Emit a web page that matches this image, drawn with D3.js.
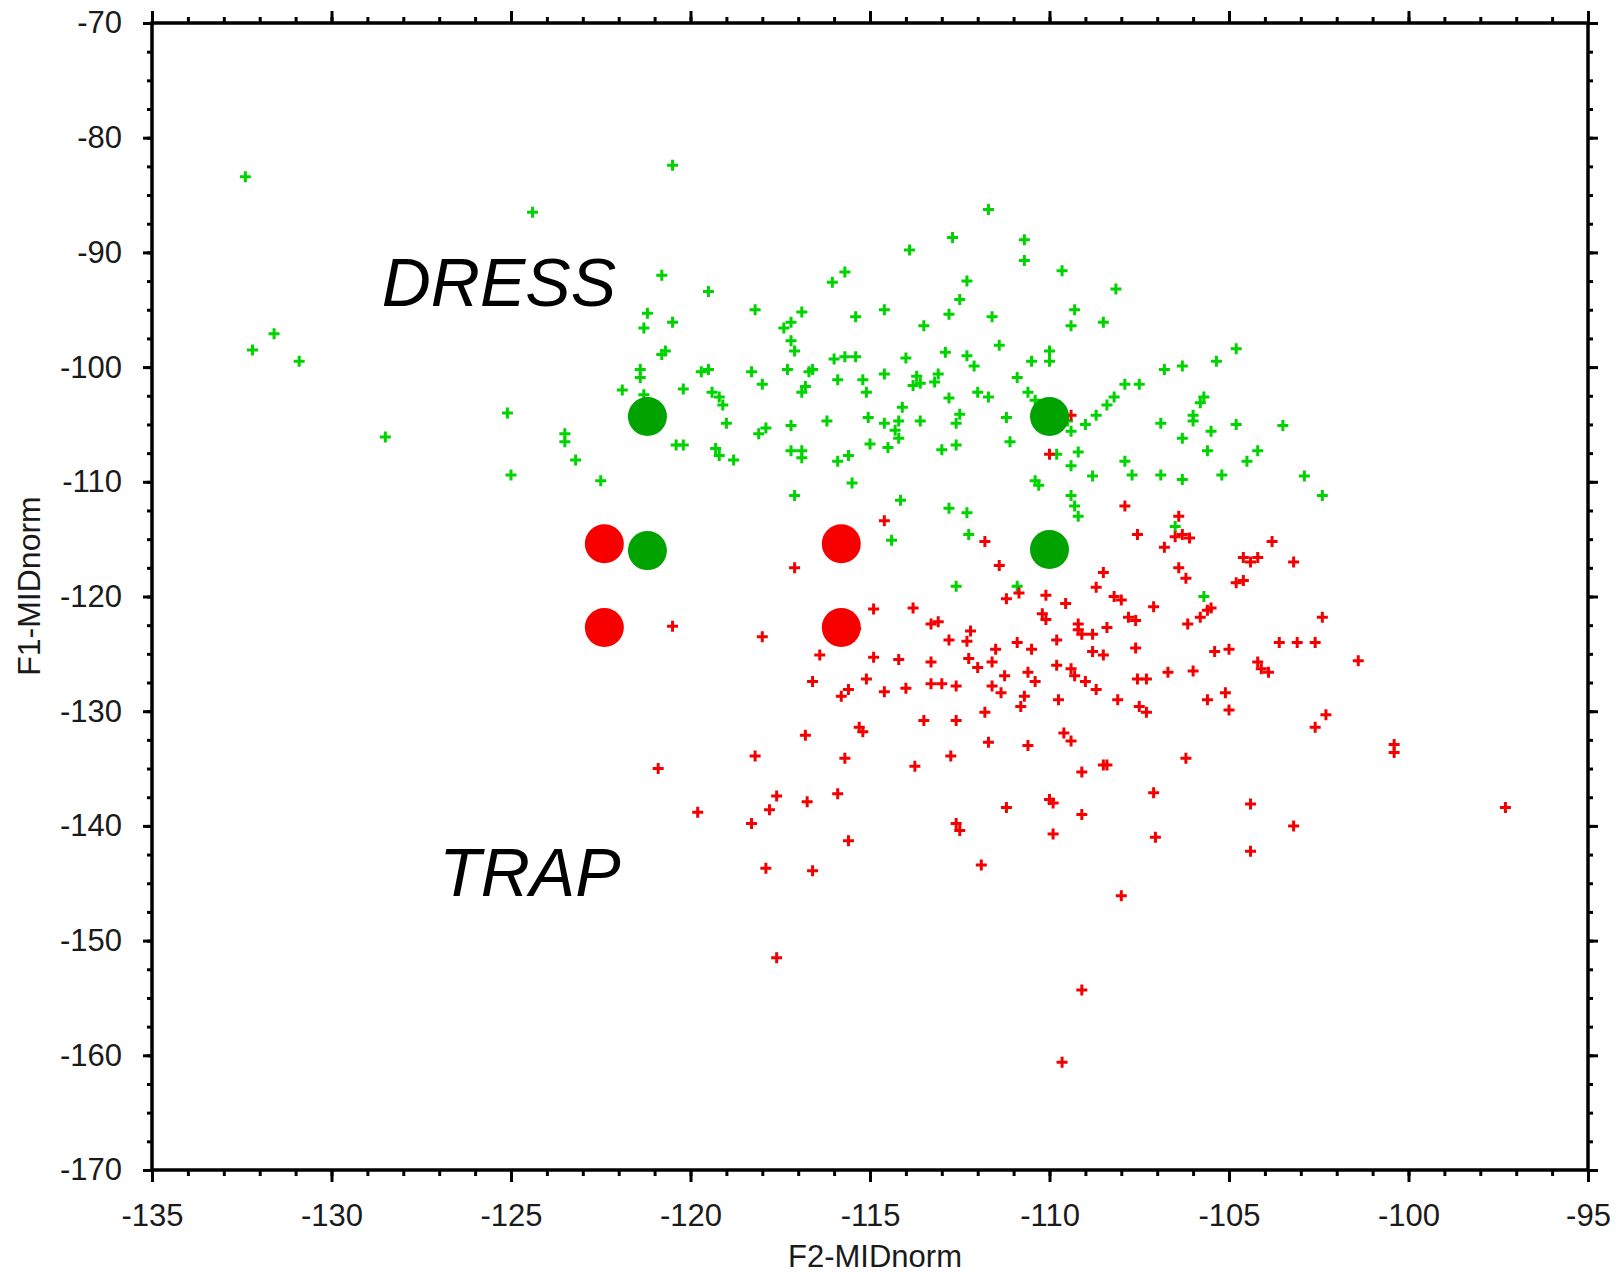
<!DOCTYPE html>
<html><head><meta charset="utf-8">
<script src="https://cdn.jsdelivr.net/npm/d3@7/dist/d3.min.js"></script>
<style>
html,body{margin:0;padding:0;background:#fff;}
svg{display:block;}
text{font-family:"Liberation Sans",Arial,sans-serif;}
</style></head>
<body>
<svg id="c" width="1617" height="1274"></svg>
<script>
// ---- data ----
const xTicks = [-135,-130,-125,-120,-115,-110,-105,-100,-95];
const yTicks = [-70,-80,-90,-100,-110,-120,-130,-140,-150,-160,-170];
const xLabel = "F2-MIDnorm";
const yLabel = "F1-MIDnorm";
const groupLabels = [{text:"DRESS", x:-128.6, y:-94.7},{text:"TRAP", x:-127.0, y:-146.1}];

const dressMeans = [[-121.2,-104.3],[-110.0,-104.3],[-121.2,-116.0],[-110.0,-115.9]];
const trapMeans  = [[-122.4,-115.4],[-115.8,-115.4],[-122.4,-122.7],[-115.8,-122.7]];

const dressPoints = [
[-132.4,-83.4],[-131.6,-97.1],[-132.2,-98.5],[-130.9,-99.5],[-128.5,-106.1],[-124.4,-86.5],
[-125.1,-104.0],[-125.0,-109.4],[-123.5,-105.8],[-123.5,-106.5],[-123.2,-108.1],[-122.5,-109.9],
[-120.5,-82.4],[-120.8,-92.0],[-121.2,-95.3],[-121.3,-96.6],[-120.5,-96.1],[-120.8,-98.9],
[-120.7,-98.6],[-121.4,-100.2],[-121.4,-100.9],[-121.3,-102.4],[-121.1,-103.5],[-120.4,-106.8],
[-120.2,-106.8],[-120.2,-101.9],[-119.5,-93.4],[-119.7,-100.4],[-119.5,-100.2],[-119.4,-102.2],
[-119.2,-102.6],[-119.1,-103.3],[-119.3,-107.1],[-119.2,-107.7],[-118.8,-108.1],[-119.0,-104.9],
[-118.2,-95.0],[-118.3,-100.4],[-118.0,-101.5],[-118.1,-105.8],[-117.9,-105.3],[-117.3,-100.2],
[-117.4,-96.6],[-117.2,-97.7],[-117.2,-96.1],[-116.9,-95.2],[-117.1,-98.6],[-116.9,-102.2],
[-117.2,-105.1],[-117.2,-107.3],[-116.9,-107.3],[-116.9,-107.9],[-117.1,-111.2],[-116.6,-100.2],
[-116.7,-100.4],[-116.05,-92.6],[-115.7,-91.7],[-116.0,-99.3],[-115.7,-99.1],[-115.4,-99.1],
[-115.9,-101.1],[-116.2,-104.7],[-115.9,-108.2],[-115.6,-107.7],[-115.5,-110.1],[-115.4,-95.6],
[-115.2,-101.1],[-115.1,-102.2],[-115.05,-104.4],[-115.0,-106.7],[-114.6,-95.0],[-114.6,-100.6],
[-114.6,-104.9],[-114.5,-107.0],[-114.3,-105.5],[-114.2,-104.7],[-114.1,-103.5],[-114.2,-106.2],
[-113.9,-89.8],[-114.0,-99.2],[-113.7,-100.8],[-113.6,-101.4],[-113.5,-96.4],[-113.8,-101.6],
[-114.15,-111.6],[-114.4,-115.1],[-113.6,-104.7],[-113.2,-101.3],[-113.1,-100.6],[-112.9,-98.7],
[-112.8,-95.4],[-112.8,-102.7],[-112.7,-88.7],[-112.6,-104.9],[-112.5,-104.1],[-112.5,-94.1],
[-112.3,-92.5],[-112.3,-99.0],[-112.1,-99.9],[-112.0,-102.2],[-112.6,-106.8],[-112.8,-112.3],
[-112.3,-112.7],[-112.25,-114.6],[-112.6,-119.1],[-111.7,-86.25],[-111.6,-95.6],[-111.7,-102.6],
[-111.2,-104.4],[-110.7,-88.9],[-110.7,-90.7],[-111.1,-106.5],[-110.9,-100.9],[-110.5,-99.5],
[-110.4,-102.9],[-110.6,-102.2],[-110.0,-98.6],[-110.0,-99.5],[-109.65,-91.6],[-109.4,-96.4],
[-109.3,-95.0],[-109.5,-104.7],[-109.4,-105.6],[-109.2,-107.4],[-109.4,-108.6],[-108.8,-109.5],
[-109.4,-111.2],[-109.3,-112.1],[-109.2,-113.0],[-110.4,-109.9],[-110.3,-110.3],[-109.8,-107.6],
[-108.5,-96.1],[-108.7,-104.2],[-108.4,-103.3],[-108.15,-93.2],[-108.2,-102.6],[-107.9,-101.5],
[-107.5,-101.5],[-107.9,-108.2],[-107.7,-109.4],[-106.9,-104.9],[-106.9,-109.4],[-106.8,-100.2],
[-106.3,-99.9],[-106.3,-109.8],[-106.5,-113.9],[-106.3,-106.2],[-106.0,-104.7],[-106.0,-104.2],
[-105.8,-103.1],[-105.7,-102.6],[-105.6,-107.3],[-105.35,-99.5],[-105.2,-109.4],[-104.8,-98.4],
[-104.8,-105.0],[-104.5,-108.2],[-104.2,-107.3],[-103.5,-105.1],[-102.9,-109.5],[-102.4,-111.2],
[-105.7,-120.0],[-110.35,-116.1],[-110.1,-116.5],[-110.9,-119.1],[-121.9,-102.0],[-116.8,-101.7],
[-120.9,-103.9],[-113.0,-107.2],[-111.4,-98.1],[-109.0,-105.0],[-105.5,-105.6]
];

const trapPoints = [
[-120.5,-122.6],[-120.9,-135.0],[-119.8,-138.8],[-118.2,-133.9],[-118.0,-123.5],[-118.3,-139.8],
[-117.8,-138.6],[-117.6,-137.4],[-117.9,-143.7],[-117.6,-151.5],[-117.1,-117.5],[-116.8,-132.1],
[-116.75,-137.9],[-116.6,-127.4],[-116.6,-143.9],[-116.4,-125.1],[-115.9,-137.2],[-115.8,-128.7],
[-115.6,-128.1],[-115.7,-134.1],[-115.6,-141.3],[-115.5,-123.0],[-115.3,-131.4],[-115.2,-131.8],
[-115.1,-127.2],[-114.9,-125.3],[-114.9,-121.1],[-114.6,-113.4],[-114.6,-128.3],[-114.2,-125.5],
[-113.8,-121.0],[-113.75,-134.8],[-113.5,-130.8],[-113.3,-127.6],[-113.3,-122.4],[-113.3,-125.7],
[-113.1,-122.2],[-113.0,-127.6],[-112.8,-123.8],[-112.75,-133.9],[-112.6,-139.8],[-112.6,-127.8],
[-112.6,-130.8],[-112.5,-140.4],[-112.3,-123.9],[-112.25,-125.4],[-112.2,-123.0],[-111.9,-143.4],
[-111.8,-115.2],[-111.8,-130.1],[-111.7,-132.7],[-111.6,-125.7],[-111.6,-127.8],[-111.5,-124.6],
[-111.4,-117.3],[-111.35,-128.4],[-111.25,-126.9],[-111.2,-138.4],[-111.2,-120.2],[-110.9,-124.0],
[-110.85,-119.7],[-110.8,-129.6],[-110.6,-126.6],[-110.6,-133.0],[-110.5,-124.6],[-110.4,-127.4],
[-110.2,-121.5],[-110.1,-119.9],[-110.1,-122.0],[-110.1,-116.8],[-110.0,-137.7],[-109.9,-138.0],
[-109.9,-140.7],[-109.8,-123.8],[-109.8,-126.0],[-110.0,-107.6],[-109.4,-104.2],[-109.75,-129.0],
[-109.6,-131.9],[-109.55,-120.6],[-109.4,-132.6],[-109.4,-126.3],[-109.3,-126.9],[-109.2,-122.9],
[-109.2,-122.4],[-109.1,-135.3],[-109.1,-139.0],[-109.1,-154.3],[-109.1,-123.3],[-108.8,-123.3],
[-108.8,-124.8],[-108.7,-128.1],[-108.5,-134.7],[-108.4,-134.7],[-108.5,-117.9],[-108.7,-119.2],
[-108.5,-125.1],[-108.4,-122.7],[-108.2,-120.0],[-108.0,-120.3],[-108.1,-129.0],[-108.0,-146.1],
[-107.9,-112.1],[-107.8,-121.8],[-107.6,-122.1],[-107.6,-124.5],[-107.55,-127.2],[-107.55,-114.6],
[-107.5,-129.6],[-107.3,-127.2],[-107.3,-130.1],[-107.1,-137.1],[-107.05,-141.0],[-107.1,-120.9],
[-106.8,-115.7],[-106.7,-126.6],[-106.5,-114.8],[-106.4,-113.0],[-106.3,-114.6],[-106.2,-134.1],
[-106.4,-117.5],[-106.2,-118.4],[-106.1,-114.9],[-106.0,-126.5],[-106.15,-122.4],[-105.8,-121.8],
[-105.6,-121.2],[-105.5,-121.0],[-105.4,-124.8],[-105.6,-129.0],[-105.1,-128.4],[-105.0,-129.9],
[-105.0,-124.6],[-104.8,-118.8],[-104.6,-118.6],[-104.6,-116.6],[-104.4,-117.0],[-104.4,-138.1],
[-104.4,-142.2],[-104.2,-116.6],[-104.2,-125.7],[-104.1,-126.3],[-103.9,-126.6],[-103.8,-115.2],
[-103.6,-124.0],[-103.2,-117.0],[-103.2,-140.0],[-103.1,-124.0],[-102.6,-124.0],[-102.6,-131.4],
[-102.4,-121.8],[-102.3,-130.3],[-101.4,-125.6],[-100.4,-132.9],[-100.4,-133.6],[-97.3,-138.4],
[-109.65,-160.6],[-115.4,-122.8],[-114.0,-128.0],[-112.0,-126.2],[-110.7,-128.7],[-109.0,-127.4]
];

// ---- layout ----
const L = 152, R = 1588, T = 23, B = 1170;
const x = d3.scaleLinear().domain([-135,-95]).range([L,R]);
const y = d3.scaleLinear().domain([-70,-170]).range([T,B]);
const svg = d3.select("#c");
const fmt = d => String(d);

const xMinor = d3.range(-135,-94.9,1);
const yMinor = d3.range(-70,-170.1,-2.5);

function styleAxis(g){
  g.select(".domain").remove();
  g.selectAll(".tick line").attr("stroke","#000").attr("stroke-width",3);
  g.selectAll(".tick text").attr("fill","#1a1a1a").style("font-size","31px").style("font-family","'Liberation Sans',Arial,sans-serif");
}
// minor ticks
svg.append("g").attr("transform",`translate(0,${B})`).call(d3.axisBottom(x).tickValues(xMinor).tickSize(6).tickFormat("")).call(styleAxis);
svg.append("g").attr("transform",`translate(0,${T})`).call(d3.axisTop(x).tickValues(xMinor).tickSize(6).tickFormat("")).call(styleAxis);
svg.append("g").attr("transform",`translate(${L},0)`).call(d3.axisLeft(y).tickValues(yMinor).tickSize(5).tickFormat("")).call(styleAxis);
svg.append("g").attr("transform",`translate(${R},0)`).call(d3.axisRight(y).tickValues(yMinor).tickSize(5).tickFormat("")).call(styleAxis);
// major ticks
svg.append("g").attr("transform",`translate(0,${B})`).call(d3.axisBottom(x).tickValues(xTicks).tickSize(12).tickPadding(22).tickFormat(fmt)).call(styleAxis);
svg.append("g").attr("transform",`translate(0,${T})`).call(d3.axisTop(x).tickValues(xTicks).tickSize(12).tickFormat("")).call(styleAxis);
svg.append("g").attr("transform",`translate(${L},0)`).call(d3.axisLeft(y).tickValues(yTicks).tickSize(9).tickPadding(21).tickFormat(fmt)).call(styleAxis);
svg.append("g").attr("transform",`translate(${R},0)`).call(d3.axisRight(y).tickValues(yTicks).tickSize(10).tickFormat("")).call(styleAxis);

// frame
svg.append("rect").attr("x",L).attr("y",T).attr("width",R-L).attr("height",B-T)
  .attr("fill","none").attr("stroke","#000").attr("stroke-width",3.5);

// axis titles
svg.append("text").attr("x",875).attr("y",1267).attr("text-anchor","middle")
  .style("font-size","31px").attr("fill","#1a1a1a").text(xLabel);
svg.append("text").attr("transform","translate(40,586) rotate(-90)").attr("text-anchor","middle")
  .style("font-size","32px").attr("fill","#1a1a1a").text(yLabel);

// markers
const arm = 5.5;
const cross = `M${-arm},0H${arm}M0,${-arm}V${arm}`;
function drawCrosses(pts,color){
  svg.append("g").selectAll("path").data(pts).join("path")
    .attr("transform",d=>`translate(${x(d[0])},${y(d[1])})`)
    .attr("d",cross).attr("stroke",color).attr("stroke-width",3).attr("fill","none");
}
drawCrosses(dressPoints,"#00d400");
drawCrosses(trapPoints,"#f50000");

svg.append("g").selectAll("circle").data(trapMeans).join("circle")
  .attr("cx",d=>x(d[0])).attr("cy",d=>y(d[1])).attr("r",19.5).attr("fill","#f80000");
svg.append("g").selectAll("circle").data(dressMeans).join("circle")
  .attr("cx",d=>x(d[0])).attr("cy",d=>y(d[1])).attr("r",19.5).attr("fill","#00a300");

// group labels
svg.append("g").selectAll("text").data(groupLabels).join("text")
  .attr("x",d=>x(d.x)).attr("y",d=>y(d.y))
  .style("font-size","68px").style("font-style","italic").attr("fill","#000")
  .text(d=>d.text);
</script>
</body></html>
